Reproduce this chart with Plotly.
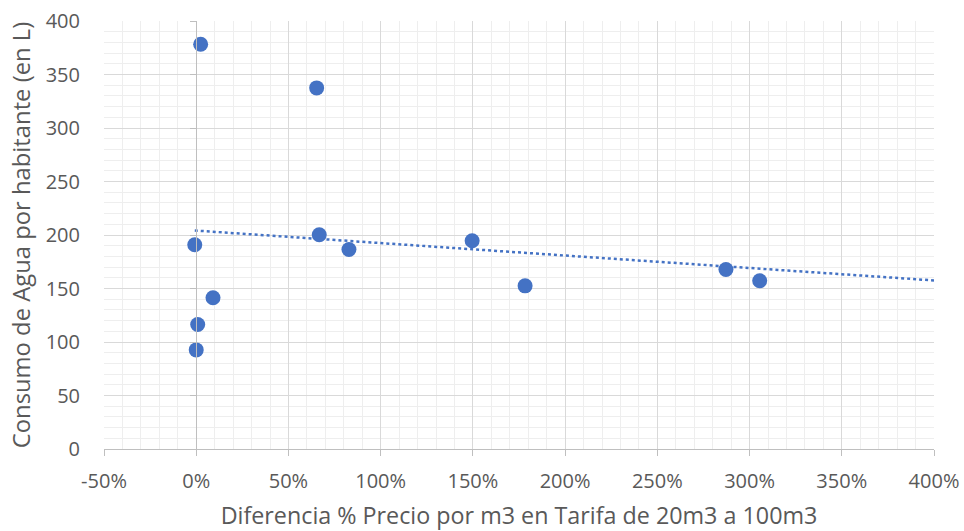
import numpy as np
import plotly.graph_objects as go

# Data (x as fraction, y in litres)
x_vals = [0.024, 0.653, -0.008, 0.667, 0.828, 0.091, 0.008, 0.000, 1.496, 1.783, 2.872, 3.055]
y_vals = [378.3, 337.5, 190.9, 200.2, 186.5, 141.3, 116.3, 92.6, 194.6, 152.5, 167.8, 157.2]
x_tick_vals = [-0.5, 0, 0.5, 1.0, 1.5, 2.0, 2.5, 3.0, 3.5, 4.0]
x_tick_text = ["-50%", "0%", "50%", "100%", "150%", "200%", "250%", "300%", "350%", "400%"]
trend_forward_end = 4.0

blue = "#4472C4"
font_family = "'Open Sans', sans-serif"
grey_txt = "#595959"

# linear trendline from data
b, a = np.polyfit(x_vals, y_vals, 1)
tx = [min(x_vals), trend_forward_end]
ty = [a + b * v for v in tx]

fig = go.Figure()
fig.add_trace(go.Scatter(x=tx, y=ty, mode="lines",
                         line=dict(color=blue, width=2.5, dash="dot"),
                         hoverinfo="skip", showlegend=False))
fig.add_trace(go.Scatter(x=x_vals, y=y_vals, mode="markers",
                         marker=dict(color=blue, size=15),
                         showlegend=False))
# helper trace to show y axis line at x=0
fig.add_trace(go.Scatter(x=[None], y=[None], yaxis="y2", showlegend=False))

fig.update_layout(
    width=964, height=531,
    margin=dict(l=103.5, r=30, t=20.5, b=82),
    paper_bgcolor="white", plot_bgcolor="white",
    font=dict(family=font_family, color=grey_txt, size=20),
    xaxis=dict(
        range=[-0.5, 4.0], tickvals=x_tick_vals, ticktext=x_tick_text,
        showgrid=True, gridcolor="#d9d9d9", gridwidth=1.3,
        minor=dict(dtick=0.1, showgrid=True, gridcolor="#eeeeee", gridwidth=1.3, ticks=""),
        zeroline=False, showline=True, linecolor="#bfbfbf", linewidth=1.3,
        ticks="outside", ticklen=6, tickcolor="#bfbfbf", tickwidth=1.3,
        tickfont=dict(size=20, color=grey_txt),
        ticklabelstandoff=8, automargin=False,
        title=dict(text="Diferencia % Precio por m3 en Tarifa de 20m3 a 100m3",
                   font=dict(size=23.3, color=grey_txt), standoff=17),
    ),
    yaxis=dict(
        range=[0, 400], dtick=50,
        showgrid=True, gridcolor="#d9d9d9", gridwidth=1.3,
        minor=dict(dtick=10, showgrid=True, gridcolor="#eeeeee", gridwidth=1.3, ticks=""),
        zeroline=False, showline=False, ticks="",
        tickfont=dict(size=20, color=grey_txt),
        ticklabelstandoff=23, automargin=False,
        title=dict(text="Consumo de Agua por habitante (en L)",
                   font=dict(size=23.8, color=grey_txt), standoff=8),
    ),
    yaxis2=dict(
        range=[0, 400], dtick=50, overlaying="y", anchor="free",
        position=(0 - (-0.5)) / 4.5, side="left",
        showgrid=False, zeroline=False, showticklabels=False,
        showline=True, linecolor="#bfbfbf", linewidth=1.3,
        ticks="outside", ticklen=6, tickcolor="#bfbfbf", tickwidth=1.3,
        automargin=False,
    ),
)

fig.write_html("out.html")
